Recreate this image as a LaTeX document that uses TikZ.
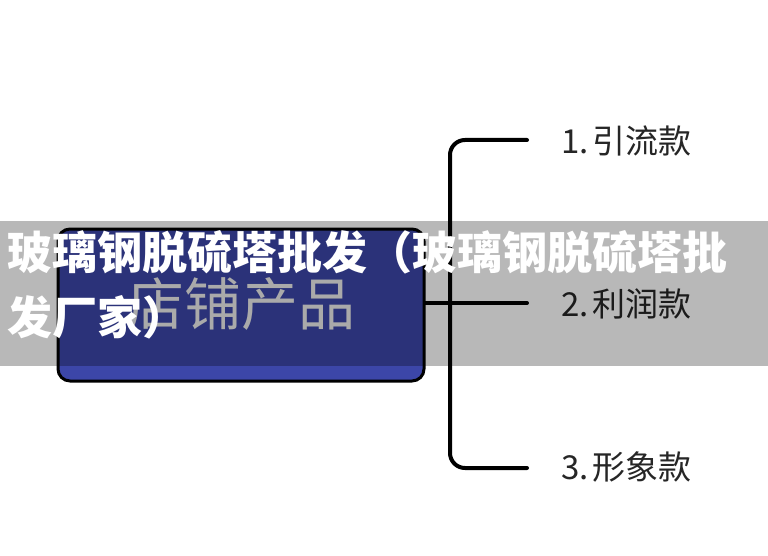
\documentclass[tikz,border=0pt]{standalone}
\usepackage{fontspec}
\newfontfamily\cjk{Noto Sans CJK SC}
\begin{document}
\begin{tikzpicture}[x=1pt,y=-1pt,
  line/.style={line width=4pt, line cap=round, black},
  boxnode/.style={draw=black, line width=3pt, rounded corners=12pt, fill=boxblue,
    minimum width=366pt, minimum height=152pt, inner sep=0pt},
  lbl/.style={anchor=west, font=\cjk\fontsize{33pt}{38pt}\selectfont, text=black!85, inner sep=0pt},
  ttl/.style={anchor=west, font=\cjk\bfseries\fontsize{45pt}{50pt}\selectfont, text=white, inner sep=0pt}]
\definecolor{boxblue}{RGB}{60,70,168}
\useasboundingbox (0,0) rectangle (768,556);
\fill[white] (0,0) rectangle (768,556);
\node[boxnode] (box) at (241,305) {};
\node[font=\cjk\fontsize{57pt}{60pt}\selectfont, text={rgb,255:red,236;green,236;blue,236}, inner sep=0pt] (prod) at (241,304) {店铺产品};
\coordinate (j) at (450,303);
\coordinate (t1) at (527,140);
\coordinate (t2) at (527,303);
\coordinate (t3) at (527,468);
\coordinate (c1) at (450,140);
\coordinate (c3) at (450,468);
\draw[line, rounded corners=15pt] (t1) -- (c1) -- (c3) -- (t3);
\draw[line] (box.east |- j) -- (t2);
\node[lbl] (l1) at (561,141) {1.\hspace{4pt}引流款};
\node[lbl] (l2) at (561,304) {2.\hspace{4pt}利润款};
\node[lbl] (l3) at (561,467) {3.\hspace{4pt}形象款};
\fill[black, fill opacity=0.28] (0,221) rectangle (768,366);
\node[ttl] (title1) at (7,252) {玻璃钢脱硫塔批发（玻璃钢脱硫塔批};
\node[ttl] (title2) at (7,317) {发厂家）};
\end{tikzpicture}
\end{document}
